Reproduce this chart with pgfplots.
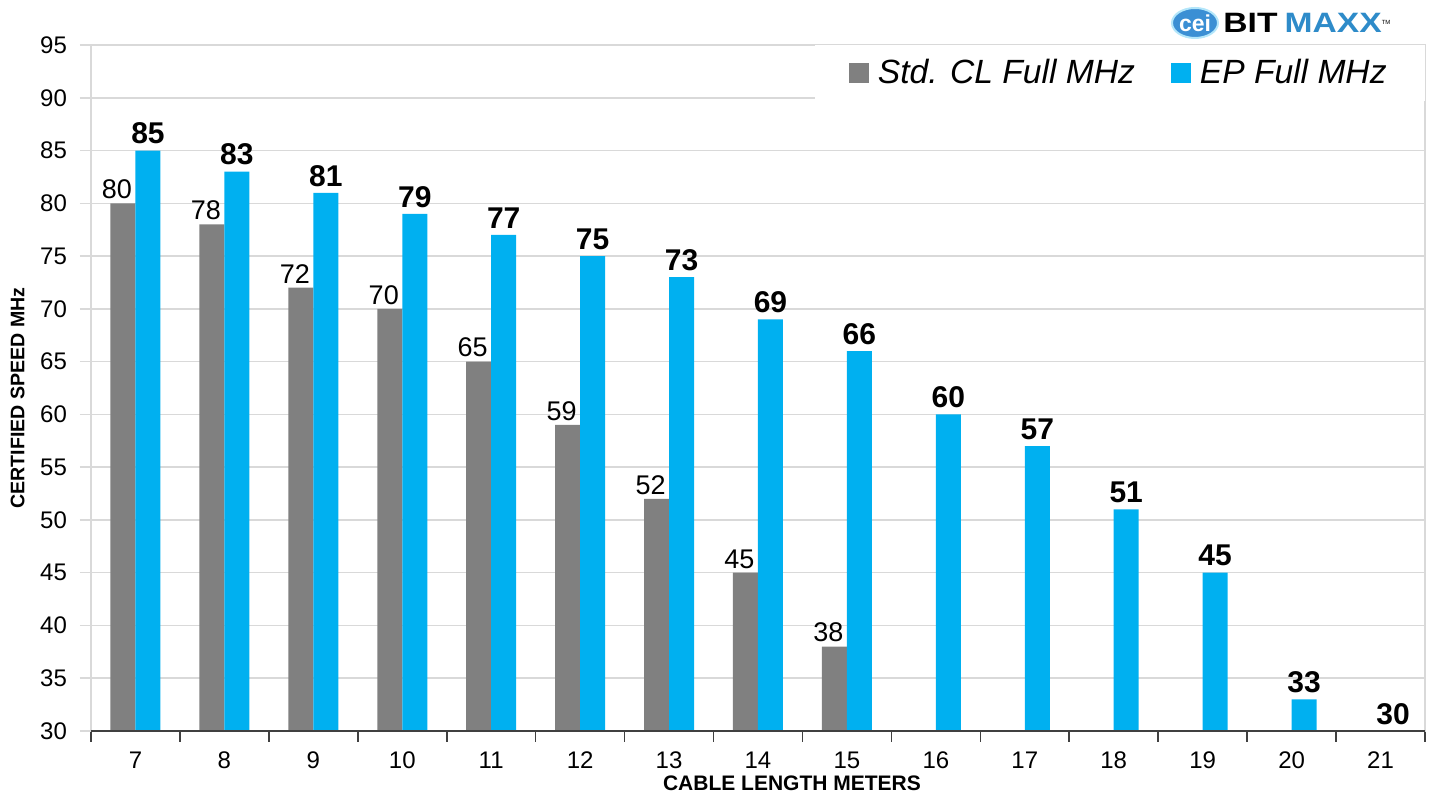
\documentclass[border=0pt]{standalone}
\usepackage{fontspec}
\setmainfont{Liberation Sans}
\usepackage{pgfplots}
\pgfplotsset{compat=1.18}
\usetikzlibrary{shapes.geometric}
\definecolor{cgray}{HTML}{808080}
\definecolor{cblue}{HTML}{00B0F0}
\definecolor{gridc}{HTML}{D9D9D9}
\definecolor{logoblue}{HTML}{2E8BC9}
\definecolor{ovalblue}{HTML}{3B8FD4}
\begin{document}
\begin{tikzpicture}
\path[use as bounding box] (-45.5pt,-32.5pt) rectangle (670.5pt,365.5pt);
\begin{axis}[
  scale only axis,
  width=667pt, height=343pt,
  anchor=south west, at={(0,0)},
  ybar, bar width=12.5pt,
  xmin=-0.5, xmax=14.5,
  ymin=30, ymax=95,
  ytick={30,35,...,95},
  xtick={-0.5,0.5,...,14.5},
  xticklabel=\empty,
  extra x ticks={0,1,...,14},
  extra x tick labels={7,8,9,10,11,12,13,14,15,16,17,18,19,20,21},
  extra x tick style={major tick length=0pt, xmajorgrids=false},
  xtick pos=bottom, ytick pos=left,
  xmajorgrids=false,
  ymajorgrids=true,
  grid style={gridc, line width=0.8pt},
  axis line style={gridc, line width=1pt},
  tick align=outside,
  major tick length=5.5pt,
  xtick style={black!75, line width=0.8pt},
  ytick style={gridc, line width=0.8pt},
  x tick label style={yshift=-7pt},
  y tick label style={xshift=-3pt},
  tick label style={font=\fontsize{12}{12}\selectfont},
  /pgf/number format/assume math mode=true,
  xlabel={\textbf{CABLE LENGTH METERS}},
  xlabel style={font=\fontsize{10.5}{11}\selectfont, yshift=9pt, xshift=17pt},
  ylabel={\textbf{CERTIFIED SPEED MHz}},
  ylabel style={font=\fontsize{9.8}{10}\selectfont, yshift=1pt, xshift=-5pt},
  legend columns=2,
  legend style={at={(1,1)}, anchor=north east, fill=white, draw=none,
    font=\fontsize{16.8}{18}\selectfont\itshape, inner xsep=17pt, inner ysep=5pt,
    /tikz/every odd column/.append style={column sep=2.5pt},
    /tikz/every even column/.append style={column sep=16pt}},
  legend image code/.code={\fill[#1,draw=none] (0pt,-5pt) rectangle (10pt,5pt);},
  after end axis/.code={\draw[black!75, line width=1pt] (rel axis cs:0,0) -- (rel axis cs:1,0);},
  nodes near coords,
  every node near coord/.append style={text=black},
]
\addplot[fill=cgray, draw=none, bar shift=-6.25pt,
  nodes near coords style={font=\fontsize{13.5}{14}\selectfont, xshift=-3pt, anchor=south, inner sep=2pt}]
  coordinates {(0,80) (1,78) (2,72) (3,70) (4,65) (5,59) (6,52) (7,45) (8,38)};
\addlegendentry{Std. CL Full MHz}
\addplot[fill=cblue, draw=none, bar shift=6.25pt,
  nodes near coords style={font=\fontsize{15}{16}\selectfont\bfseries, anchor=south, inner sep=3pt}]
  coordinates {(0,85) (1,83) (2,81) (3,79) (4,77) (5,75) (6,73) (7,69) (8,66) (9,60) (10,57) (11,51) (12,45) (13,33) (14,30)};
\addlegendentry{EP Full MHz}
\end{axis}
\node[fill=ovalblue, draw=cyan!30, line width=1pt, ellipse, inner sep=0pt, minimum width=23pt, minimum height=15pt, text=white, font=\bfseries\fontsize{11.5}{12}\selectfont] at (552pt,354pt) {cei};
\node[anchor=west, inner sep=0pt] at (566pt,354pt) {\scalebox{1.2}[1]{\fontsize{14}{14}\selectfont\bfseries BIT\hspace{3pt}\color{logoblue}MAXX}\raisebox{4pt}{\fontsize{3}{3}\selectfont TM}};
\end{tikzpicture}
\end{document}
